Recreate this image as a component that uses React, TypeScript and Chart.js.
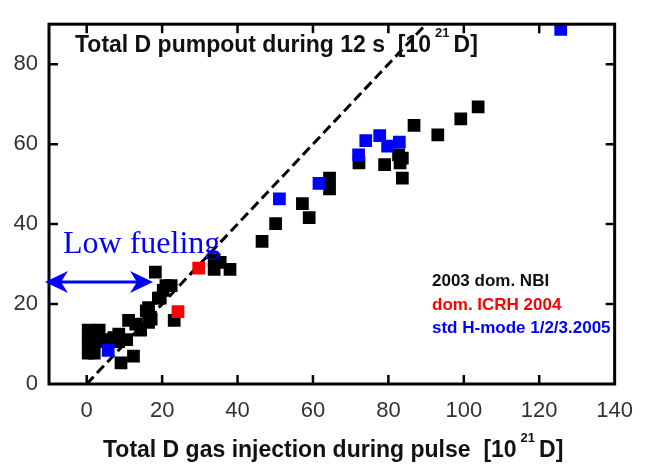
import React, { useEffect, useRef } from 'react';
import { Chart, registerables } from 'chart.js';

Chart.register(...registerables);

// ---- data ----
const nbiPoints: number[][] = [
  [0.4, 13.5], [0.4, 10.6], [0.4, 7.7], [3.3, 13.5], [2.5, 10.6], [2.0, 7.7],
  [5.4, 11.1], [7.2, 11.6], [8.5, 10.6], [8.5, 12.5], [10.6, 11.1],
  [9.1, 5.3], [12.4, 7.0], [11.1, 15.9], [13.0, 15.0], [14.3, 13.5],
  [16.4, 15.4], [16.9, 16.7], [17.1, 16.2], [15.8, 18.3], [16.4, 19.1],
  [19.0, 21.5], [19.5, 21.5], [20.3, 23.4], [21.0, 24.6], [22.4, 24.6],
  [18.2, 28.0], [23.2, 15.9],
  [33.8, 31.1], [35.4, 30.4], [33.8, 28.7], [38.0, 28.7],
  [46.5, 35.7], [50.1, 40.1], [57.2, 45.1], [59.0, 41.6],
  [64.4, 51.5], [64.4, 48.8],
  [72.2, 55.3], [79.0, 54.9], [82.7, 57.3], [83.7, 56.5], [83.1, 55.3], [83.7, 51.5],
  [86.8, 64.7], [93.1, 62.3], [99.2, 66.3], [103.8, 69.3],
];
const icrhPoints: number[][] = [[24.2, 18.1], [29.7, 29.0]];
const hmodePoints: number[][] = [
  [5.7, 8.4], [51.1, 46.3], [61.6, 50.2], [72.1, 57.3], [74.0, 60.9],
  [77.7, 62.1], [79.8, 59.5], [82.9, 60.5], [125.7, 88.7],
];
const unityLine: number[][] = [[0, 0], [90, 90]];

const seriesLabels = ['2003 dom. NBI', 'dom. ICRH 2004', 'std H-mode 1/2/3.2005'];
const seriesColors = ['#000000', '#ff0000', '#0000ff'];
const xRange = [-10, 140];
const yRange = [0, 90];
const tickStep = 10;
const labelStep = 20;
const plotTitle = ['Total D pumpout during 12 s  [10', '21', 'D]'];
const xTitle = ['Total D gas injection during pulse  [10', '21', 'D]'];
const noteText = 'Low fueling';

const toXY = (pts: number[][]) => pts.map(([x, y]) => ({ x, y }));

function drawSup(ctx: CanvasRenderingContext2D, parts: string[], x: number, y: number,
  font: string, supFont: string, rise: number, gap: number) {
  ctx.font = font;
  ctx.fillText(parts[0], x, y);
  x += ctx.measureText(parts[0]).width + gap;
  ctx.font = supFont;
  ctx.fillText(parts[1], x, y - rise);
  x += ctx.measureText(parts[1]).width + gap;
  ctx.font = font;
  ctx.fillText(parts[2], x, y);
}

function arrowHead(ctx: CanvasRenderingContext2D, tipX: number, y: number, dir: number) {
  const len = 23, half = 11, notch = 7;
  ctx.beginPath();
  ctx.moveTo(tipX, y);
  ctx.lineTo(tipX + dir * len, y - half);
  ctx.lineTo(tipX + dir * (len - notch), y);
  ctx.lineTo(tipX + dir * len, y + half);
  ctx.closePath();
  ctx.fill();
}

const overlay = {
  id: 'overlay',
  afterDatasetsDraw(chart: any) {
    const { ctx, chartArea: a, scales } = chart;
    const xs = scales.x, ys = scales.y;
    ctx.save();
    ctx.strokeStyle = '#000';
    ctx.lineCap = 'butt';
    // inward tick marks on all four sides
    ctx.lineWidth = 2.5;
    const tl = 9;
    xs.ticks.forEach((t: any) => {
      const px = xs.getPixelForValue(t.value);
      if (px <= a.left + 2 || px >= a.right - 2) return;
      ctx.beginPath();
      ctx.moveTo(px, a.bottom); ctx.lineTo(px, a.bottom - tl);
      ctx.moveTo(px, a.top); ctx.lineTo(px, a.top + tl);
      ctx.stroke();
    });
    ys.ticks.forEach((t: any) => {
      const py = ys.getPixelForValue(t.value);
      if (py <= a.top + 2 || py >= a.bottom - 2) return;
      ctx.beginPath();
      ctx.moveTo(a.left, py); ctx.lineTo(a.left + tl, py);
      ctx.moveTo(a.right, py); ctx.lineTo(a.right - tl, py);
      ctx.stroke();
    });
    // frame
    ctx.lineWidth = 3;
    ctx.strokeRect(a.left, a.top, a.right - a.left, a.bottom - a.top);

    // titles
    ctx.fillStyle = '#111';
    ctx.textBaseline = 'alphabetic';
    ctx.textAlign = 'left';
    drawSup(ctx, plotTitle, 75, 52, 'bold 23px "Liberation Sans"', 'bold 13px "Liberation Sans"', 15, 4);
    drawSup(ctx, xTitle, 103, 457, 'bold 23px "Liberation Sans"', 'bold 13px "Liberation Sans"', 15, 4);

    // legend text (colored labels)
    const base = [286, 310, 333];
    ctx.font = 'bold 17px "Liberation Sans"';
    seriesLabels.forEach((lab, i) => {
      ctx.fillStyle = seriesColors[i] === '#000000' ? '#111' : seriesColors[i];
      ctx.fillText(lab, 432, base[i]);
    });

    // annotation
    ctx.fillStyle = '#0000ff';
    ctx.font = '32px "Liberation Serif"';
    ctx.fillText(noteText, 63, 253);
    ctx.strokeStyle = '#0000ff';
    ctx.lineWidth = 3;
    ctx.beginPath();
    ctx.moveTo(60, 282); ctx.lineTo(138, 282);
    ctx.stroke();
    arrowHead(ctx, 45, 282, 1);
    arrowHead(ctx, 153, 282, -1);
    ctx.restore();
  },
};

export default function App() {
  const ref = useRef<HTMLCanvasElement | null>(null);
  useEffect(() => {
    document.body.style.margin = '0';
    const canvas = ref.current;
    if (!canvas) return;
    const pointCommon = { pointStyle: 'rect', pointRadius: 9, pointHoverRadius: 9, borderWidth: 0 };
    const tickFont = { family: '"Liberation Sans", Arial, sans-serif', size: 22 };
    const chart = new Chart(canvas, {
      type: 'scatter',
      data: {
        datasets: [
          { label: seriesLabels[2], data: toXY(hmodePoints), backgroundColor: seriesColors[2], borderColor: seriesColors[2], order: 0, ...pointCommon },
          { label: seriesLabels[1], data: toXY(icrhPoints), backgroundColor: seriesColors[1], borderColor: seriesColors[1], order: 1, ...pointCommon },
          { label: seriesLabels[0], data: toXY(nbiPoints), backgroundColor: seriesColors[0], borderColor: seriesColors[0], order: 2, ...pointCommon },
          {
            label: 'y = x', data: toXY(unityLine), showLine: true, pointRadius: 0, borderColor: '#000',
            borderWidth: 3, borderDash: [10, 5], order: 3,
          },
        ],
      } as any,
      options: {
        responsive: false,
        animation: false,
        events: [],
        layout: { padding: { top: 11, right: 23, left: 0, bottom: 0 } },
        plugins: { legend: { display: false }, tooltip: { enabled: false }, title: { display: false } },
        scales: {
          x: {
            type: 'linear', min: xRange[0], max: xRange[1],
            grid: { display: false, drawTicks: false },
            border: { display: false },
            ticks: {
              stepSize: tickStep, autoSkip: false, maxRotation: 0, padding: 14,
              font: tickFont, color: '#333',
              callback: (v: any) => (Number(v) % labelStep === 0 ? String(v) : null),
            },
            afterFit: (s: any) => { s.height = 80; },
          },
          y: {
            type: 'linear', min: yRange[0], max: yRange[1],
            grid: { display: false, drawTicks: false },
            border: { display: false },
            ticks: {
              stepSize: tickStep, autoSkip: false, padding: 11,
              font: tickFont, color: '#333',
              callback: (v: any) => (Number(v) % labelStep === 0 ? String(v) : null),
            },
            afterFit: (s: any) => { s.width = 49; },
          },
        },
      } as any,
      plugins: [overlay],
    });
    return () => chart.destroy();
  }, []);
  return (
    <div style={{ width: 647, height: 464, background: '#fff' }}>
      <canvas ref={ref} width={647} height={464} style={{ display: 'block' }} />
    </div>
  );
}
